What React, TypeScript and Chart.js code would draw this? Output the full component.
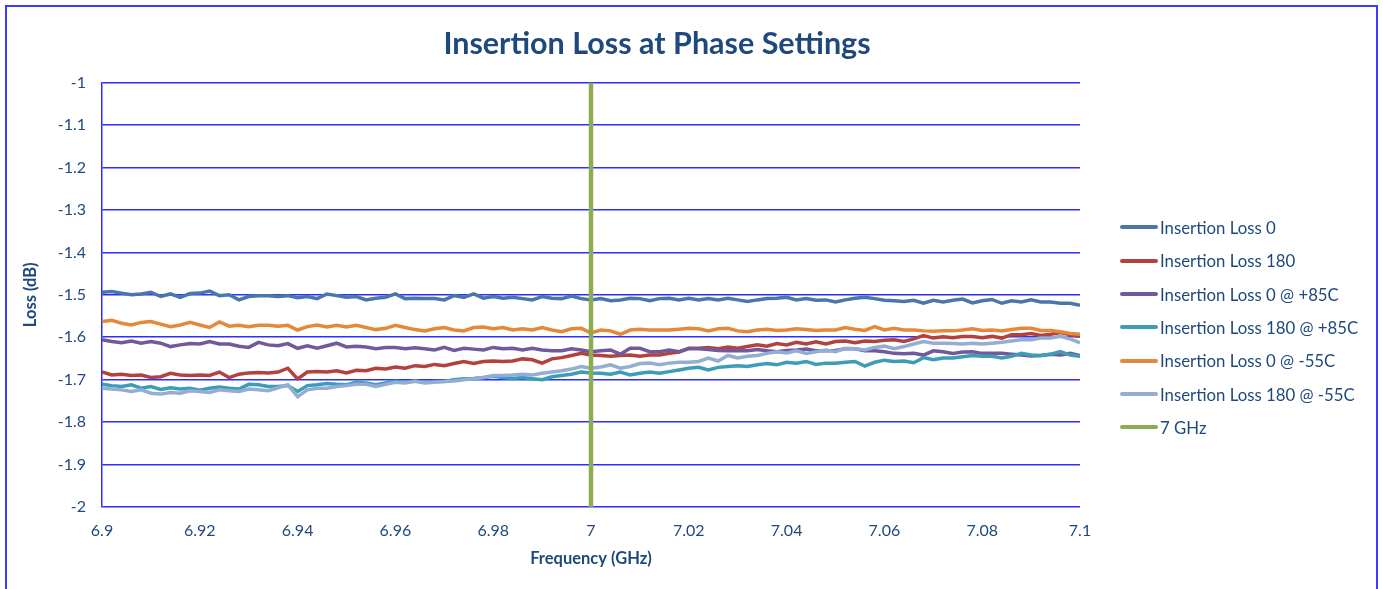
import React, { useEffect, useRef } from "react";
import { Chart, registerables } from "chart.js";

Chart.register(...registerables);

const freqGHz = [
  6.9, 6.902, 6.904, 6.906, 6.908, 6.91, 6.912, 6.914, 6.916, 6.918,
  6.92, 6.922, 6.924, 6.926, 6.928, 6.93, 6.932, 6.934, 6.936, 6.938,
  6.94, 6.942, 6.944, 6.946, 6.948, 6.95, 6.952, 6.954, 6.956, 6.958,
  6.96, 6.962, 6.964, 6.966, 6.968, 6.97, 6.972, 6.974, 6.976, 6.978,
  6.98, 6.982, 6.984, 6.986, 6.988, 6.99, 6.992, 6.994, 6.996, 6.998,
  7.0, 7.002, 7.004, 7.006, 7.008, 7.01, 7.012, 7.014, 7.016, 7.018,
  7.02, 7.022, 7.024, 7.026, 7.028, 7.03, 7.032, 7.034, 7.036, 7.038,
  7.04, 7.042, 7.044, 7.046, 7.048, 7.05, 7.052, 7.054, 7.056, 7.058,
  7.06, 7.062, 7.064, 7.066, 7.068, 7.07, 7.072, 7.074, 7.076, 7.078,
  7.08, 7.082, 7.084, 7.086, 7.088, 7.09, 7.092, 7.094, 7.096, 7.098,
  7.1,
];

const loss0 = [
  -1.494, -1.492, -1.496, -1.500, -1.498, -1.494, -1.504, -1.498, -1.506, -1.497,
  -1.496, -1.491, -1.502, -1.500, -1.512, -1.504, -1.502, -1.502, -1.504, -1.502,
  -1.507, -1.504, -1.509, -1.498, -1.502, -1.506, -1.504, -1.512, -1.508, -1.506,
  -1.498, -1.509, -1.508, -1.509, -1.509, -1.512, -1.502, -1.506, -1.498, -1.508,
  -1.504, -1.508, -1.506, -1.509, -1.512, -1.504, -1.508, -1.509, -1.503, -1.509,
  -1.512, -1.509, -1.514, -1.512, -1.508, -1.509, -1.514, -1.509, -1.508, -1.512,
  -1.508, -1.512, -1.509, -1.512, -1.508, -1.512, -1.516, -1.512, -1.509, -1.508,
  -1.506, -1.512, -1.509, -1.513, -1.512, -1.517, -1.512, -1.508, -1.506, -1.509,
  -1.513, -1.514, -1.516, -1.513, -1.520, -1.513, -1.517, -1.513, -1.510, -1.519,
  -1.514, -1.511, -1.520, -1.514, -1.517, -1.512, -1.517, -1.517, -1.520, -1.520,
  -1.525,
];

const loss180 = [
  -1.682, -1.689, -1.687, -1.690, -1.689, -1.695, -1.693, -1.685, -1.689, -1.690,
  -1.689, -1.690, -1.682, -1.695, -1.687, -1.684, -1.683, -1.684, -1.682, -1.673,
  -1.698, -1.682, -1.681, -1.682, -1.679, -1.684, -1.678, -1.679, -1.673, -1.675,
  -1.670, -1.673, -1.667, -1.669, -1.664, -1.667, -1.662, -1.657, -1.662, -1.657,
  -1.656, -1.657, -1.656, -1.651, -1.653, -1.661, -1.651, -1.648, -1.643, -1.638,
  -1.642, -1.643, -1.645, -1.643, -1.642, -1.645, -1.642, -1.642, -1.638, -1.635,
  -1.626, -1.626, -1.624, -1.627, -1.623, -1.626, -1.622, -1.618, -1.621, -1.615,
  -1.618, -1.612, -1.616, -1.611, -1.616, -1.610, -1.609, -1.613, -1.609, -1.610,
  -1.607, -1.606, -1.610, -1.604, -1.596, -1.602, -1.599, -1.601, -1.598, -1.598,
  -1.601, -1.598, -1.602, -1.594, -1.594, -1.591, -1.596, -1.593, -1.589, -1.594,
  -1.598,
];

const loss0Hot = [
  -1.606, -1.610, -1.613, -1.609, -1.614, -1.610, -1.614, -1.622, -1.618, -1.615,
  -1.616, -1.610, -1.616, -1.616, -1.621, -1.624, -1.612, -1.618, -1.620, -1.615,
  -1.626, -1.620, -1.626, -1.620, -1.614, -1.623, -1.621, -1.623, -1.627, -1.624,
  -1.624, -1.627, -1.625, -1.627, -1.630, -1.624, -1.631, -1.626, -1.628, -1.630,
  -1.624, -1.627, -1.626, -1.630, -1.626, -1.630, -1.632, -1.632, -1.627, -1.630,
  -1.634, -1.632, -1.630, -1.640, -1.626, -1.626, -1.634, -1.634, -1.630, -1.634,
  -1.627, -1.627, -1.629, -1.631, -1.632, -1.631, -1.632, -1.629, -1.632, -1.634,
  -1.631, -1.630, -1.628, -1.632, -1.632, -1.631, -1.627, -1.627, -1.632, -1.632,
  -1.634, -1.638, -1.639, -1.638, -1.642, -1.632, -1.634, -1.638, -1.635, -1.634,
  -1.638, -1.638, -1.638, -1.640, -1.642, -1.644, -1.643, -1.640, -1.642, -1.638,
  -1.643,
];

const loss180Hot = [
  -1.711, -1.714, -1.716, -1.712, -1.720, -1.716, -1.723, -1.719, -1.722, -1.720,
  -1.725, -1.720, -1.717, -1.720, -1.722, -1.711, -1.712, -1.716, -1.716, -1.714,
  -1.728, -1.714, -1.712, -1.709, -1.711, -1.712, -1.706, -1.708, -1.712, -1.708,
  -1.704, -1.706, -1.703, -1.706, -1.704, -1.704, -1.700, -1.698, -1.697, -1.695,
  -1.692, -1.695, -1.697, -1.695, -1.698, -1.700, -1.693, -1.690, -1.687, -1.682,
  -1.684, -1.685, -1.687, -1.682, -1.689, -1.685, -1.682, -1.685, -1.681, -1.677,
  -1.673, -1.671, -1.677, -1.671, -1.669, -1.667, -1.669, -1.665, -1.662, -1.665,
  -1.659, -1.661, -1.657, -1.664, -1.661, -1.661, -1.659, -1.657, -1.668, -1.659,
  -1.654, -1.657, -1.656, -1.660, -1.648, -1.653, -1.649, -1.649, -1.646, -1.643,
  -1.645, -1.645, -1.649, -1.645, -1.638, -1.642, -1.643, -1.640, -1.634, -1.642,
  -1.645,
];

const loss0Cold = [
  -1.563, -1.560, -1.567, -1.571, -1.565, -1.563, -1.569, -1.575, -1.571, -1.565,
  -1.571, -1.577, -1.564, -1.574, -1.572, -1.575, -1.572, -1.572, -1.574, -1.572,
  -1.583, -1.575, -1.571, -1.576, -1.572, -1.576, -1.572, -1.577, -1.582, -1.579,
  -1.572, -1.577, -1.582, -1.585, -1.580, -1.577, -1.583, -1.585, -1.577, -1.576,
  -1.580, -1.577, -1.583, -1.580, -1.583, -1.577, -1.583, -1.587, -1.580, -1.579,
  -1.590, -1.583, -1.585, -1.593, -1.583, -1.581, -1.583, -1.583, -1.583, -1.581,
  -1.579, -1.580, -1.585, -1.580, -1.579, -1.585, -1.587, -1.583, -1.581, -1.584,
  -1.583, -1.580, -1.582, -1.584, -1.583, -1.583, -1.577, -1.581, -1.584, -1.575,
  -1.583, -1.579, -1.583, -1.583, -1.585, -1.586, -1.585, -1.585, -1.583, -1.580,
  -1.584, -1.583, -1.585, -1.582, -1.579, -1.579, -1.584, -1.584, -1.587, -1.591,
  -1.593,
];

const loss180Cold = [
  -1.720, -1.722, -1.724, -1.728, -1.724, -1.732, -1.734, -1.730, -1.732, -1.726,
  -1.728, -1.730, -1.724, -1.726, -1.728, -1.722, -1.724, -1.726, -1.719, -1.712,
  -1.740, -1.724, -1.720, -1.720, -1.716, -1.714, -1.711, -1.711, -1.716, -1.711,
  -1.706, -1.708, -1.704, -1.708, -1.706, -1.704, -1.703, -1.700, -1.698, -1.695,
  -1.690, -1.690, -1.689, -1.687, -1.689, -1.685, -1.682, -1.679, -1.675, -1.669,
  -1.673, -1.670, -1.665, -1.673, -1.669, -1.662, -1.661, -1.665, -1.661, -1.659,
  -1.659, -1.657, -1.649, -1.656, -1.643, -1.649, -1.645, -1.643, -1.638, -1.634,
  -1.637, -1.632, -1.638, -1.634, -1.630, -1.634, -1.626, -1.627, -1.630, -1.624,
  -1.621, -1.627, -1.622, -1.616, -1.610, -1.614, -1.614, -1.615, -1.616, -1.614,
  -1.616, -1.614, -1.612, -1.609, -1.606, -1.606, -1.602, -1.602, -1.598, -1.604,
  -1.613,
];

const markerFreq = [7.0, 7.0];
const markerLoss = [-1, -2];

const seriesNames = [
  "Insertion Loss 0",
  "Insertion Loss 180",
  "Insertion Loss 0 @ +85C",
  "Insertion Loss 180 @ +85C",
  "Insertion Loss 0 @ -55C",
  "Insertion Loss 180 @ -55C",
  "7 GHz",
];

const xTicks = [6.9, 6.92, 6.94, 6.96, 6.98, 7, 7.02, 7.04, 7.06, 7.08, 7.1];
const yTicks = [-1, -1.1, -1.2, -1.3, -1.4, -1.5, -1.6, -1.7, -1.8, -1.9, -2];

const seriesColors = [
  "#4A76AC",
  "#B3423F",
  "#72599B",
  "#3D9DB6",
  "#E6883A",
  "#93ADD3",
  "#8CAC4F",
];

const TEXT = "#1F497D";
const GRID = "rgb(45,45,255)";
const FONT = "Lato, 'Open Sans', sans-serif";

export default function App() {
  const ref = useRef<HTMLCanvasElement>(null);

  useEffect(() => {
    if (!ref.current) return;
    const lossSeries = [loss0, loss180, loss0Hot, loss180Hot, loss0Cold, loss180Cold];
    const datasets: any[] = lossSeries.map((vals, i) => ({
      label: seriesNames[i],
      data: freqGHz.map((f, k) => ({ x: f, y: vals[k] })),
      borderColor: seriesColors[i],
      backgroundColor: seriesColors[i],
      borderWidth: 3.5,
      pointRadius: 0,
      tension: 0,
      order: 20 - i,
    }));
    datasets.push({
      label: seriesNames[6],
      data: markerFreq.map((f, k) => ({ x: f, y: markerLoss[k] })),
      borderColor: seriesColors[6],
      backgroundColor: seriesColors[6],
      borderWidth: 4.5,
      pointRadius: 0,
      order: 1,
    });

    const chart = new Chart(ref.current, {
      type: "line",
      data: { datasets },
      options: {
        animation: false,
        responsive: false,
        devicePixelRatio: 1,
        layout: { padding: 0 },
        plugins: {
          legend: { display: false },
          tooltip: { enabled: false },
          title: {
            display: true,
            text: "Insertion Loss at Phase Settings",
            color: TEXT,
            font: { family: FONT, size: 30.5, weight: "bold" },
            padding: { top: 26, bottom: 20 },
          },
        },
        scales: {
          x: {
            type: "linear",
            min: 6.9,
            max: 7.1,
            afterBuildTicks: (scale: any) => {
              scale.ticks = xTicks.map((v) => ({ value: v }));
            },
            afterFit: (scale: any) => {
              scale.height = 82;
            },
            grid: { display: false, drawTicks: false },
            border: { display: false },
            ticks: {
              color: TEXT,
              font: { family: FONT, size: 16 },
              padding: 14,
              maxRotation: 0,
              autoSkip: false,
              callback: (v: any) => String(v),
            },
            title: {
              display: true,
              text: "Frequency (GHz)",
              color: TEXT,
              font: { family: FONT, size: 16.5, weight: "bold" },
              padding: { top: 0, bottom: 20 },
            },
          },
          y: {
            type: "linear",
            position: "left",
            min: -2,
            max: -1,
            afterBuildTicks: (scale: any) => {
              scale.ticks = yTicks.map((v) => ({ value: v }));
            },
            afterFit: (scale: any) => {
              scale.width = 102;
            },
            grid: { color: GRID, lineWidth: 1.5, drawTicks: false },
            border: { display: true, color: GRID, width: 1.5 },
            ticks: {
              color: TEXT,
              font: { family: FONT, size: 16 },
              padding: 16,
              autoSkip: false,
              callback: (v: any) => String(v),
            },
            title: {
              display: true,
              text: "Loss (dB)",
              color: TEXT,
              font: { family: FONT, size: 16.5, weight: "bold" },
              padding: { top: 21, bottom: 0 },
            },
          },
          legendSpace: {
            type: "linear",
            position: "right",
            display: true,
            min: -2,
            max: -1,
            afterFit: (scale: any) => {
              scale.width = 234;
            },
            grid: { display: false, drawTicks: false },
            border: { display: false },
            ticks: { display: false },
            title: { display: false },
          },
        },
      },
    } as any);
    return () => chart.destroy();
  }, []);

  const legendTops = [227, 260.5, 294, 327.3, 360.6, 394, 427.3];

  return (
    <div
      style={{
        position: "fixed",
        left: 0,
        top: 0,
        width: 1383,
        height: 589,
        background: "#ffffff",
        overflow: "hidden",
      }}
    >
      <div
        style={{
          position: "absolute",
          left: 5,
          top: 5,
          width: 1373,
          height: 640,
          border: "2px solid #3c3cff",
          boxSizing: "border-box",
        }}
      />
      <canvas
        ref={ref}
        width={1314}
        height={589}
        style={{ position: "absolute", left: 0, top: 0, width: 1314, height: 589 }}
      />
      {seriesNames.map((name, i) => (
        <div
          key={name}
          style={{
            position: "absolute",
            left: 1120,
            top: legendTops[i] - 11,
            height: 22,
            display: "flex",
            alignItems: "center",
            whiteSpace: "nowrap",
            fontFamily: FONT,
            fontSize: 16.8,
            color: TEXT,
          }}
        >
          <span
            style={{
              display: "inline-block",
              width: 38,
              height: 4,
              borderRadius: 2,
              background: seriesColors[i],
              marginRight: 2,
            }}
          />
          <span>{name}</span>
        </div>
      ))}
    </div>
  );
}
